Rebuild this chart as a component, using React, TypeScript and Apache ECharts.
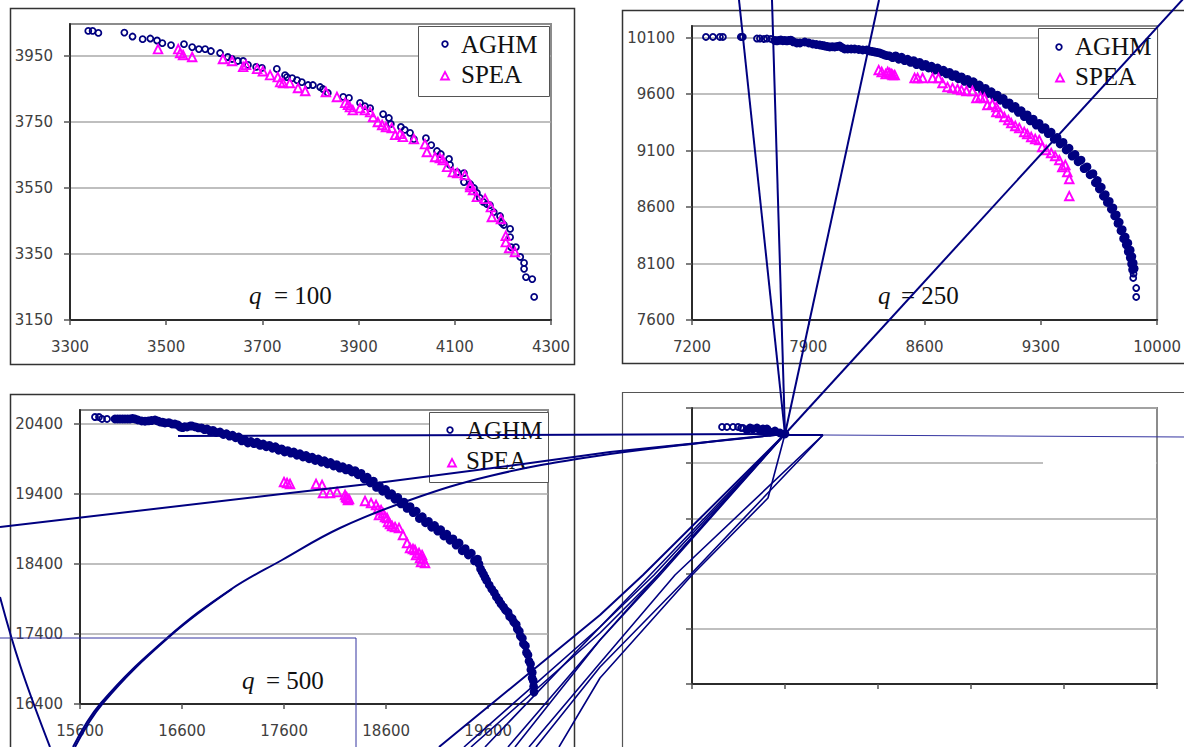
import React, { useEffect, useRef } from "react";
import * as echarts from "echarts";

const NAVY = "#000080";
const PINK = "#FF00FF";

const xTicks100 = [3300, 3500, 3700, 3900, 4100, 4300];
const yTicks100 = [3150, 3350, 3550, 3750, 3950];
const xTicks250 = [7200, 7900, 8600, 9300, 10000];
const yTicks250 = [7600, 8100, 8600, 9100, 9600, 10100];
const xTicks500 = [15600, 16600, 17600, 18600, 19600];
const yTicks500 = [16400, 17400, 18400, 19400, 20400];
const ticksBlank = [0, 1, 2, 3, 4, 5];

const aghm100 = [[3338,4026],[3347,4026],[3359,4020],[3413,4021],[3430,4009],[3451,4001],[3467,4003],[3481,3997],[3492,3989],[3510,3983],[3537,3986],[3554,3977],[3568,3971],[3581,3971],[3593,3965],[3612,3959],[3628,3947],[3637,3941],[3649,3935],[3660,3935],[3670,3923],[3687,3917],[3699,3914],[3730,3911],[3747,3892],[3751,3886],[3762,3883],[3772,3877],[3782,3871],[3795,3862],[3805,3862],[3820,3856],[3826,3850],[3836,3838],[3868,3826],[3880,3823],[3903,3808],[3913,3798],[3924,3792],[3951,3774],[3963,3762],[3967,3744],[3988,3735],[3996,3726],[4007,3717],[4015,3698],[4040,3701],[4051,3680],[4063,3662],[4071,3653],[4088,3638],[4090,3620],[4105,3598],[4119,3595],[4119,3568],[4132,3562],[4140,3550],[4146,3535],[4152,3520],[4159,3508],[4167,3501],[4173,3498],[4181,3477],[4194,3465],[4198,3444],[4202,3438],[4215,3426],[4215,3401],[4217,3371],[4227,3371],[4236,3341],[4244,3323],[4244,3305],[4248,3280],[4261,3274],[4265,3220]];
const spea100 = [[3483,3971],[3525,3971],[3529,3959],[3535,3953],[3554,3947],[3618,3941],[3637,3935],[3660,3917],[3666,3923],[3689,3911],[3701,3904],[3716,3892],[3732,3886],[3737,3871],[3743,3868],[3757,3868],[3774,3853],[3789,3844],[3832,3841],[3855,3826],[3872,3808],[3878,3802],[3882,3795],[3888,3786],[3903,3792],[3913,3786],[3924,3780],[3930,3765],[3940,3750],[3949,3741],[3957,3735],[3969,3732],[3976,3711],[3986,3714],[3992,3705],[4015,3698],[4038,3683],[4042,3659],[4059,3644],[4069,3641],[4075,3635],[4084,3614],[4096,3598],[4105,3595],[4121,3589],[4132,3559],[4132,3553],[4138,3544],[4146,3523],[4163,3517],[4175,3492],[4177,3462],[4196,3456],[4206,3386],[4206,3405],[4213,3368],[4225,3356]];

const aghm250 = [[7284,10105],[7326,10105],[7368,10105],[7386,10105],[7494,10105],[7500,10105],[7506,10105],[7591,10091],[7609,10091],[7633,10087],[7651,10091],[7675,10087],[7699,10074],[7711,10070],[7723,10075],[7735,10078],[7747,10072],[7759,10074],[7771,10070],[7783,10074],[7795,10077],[7810,10062],[7831,10051],[7850,10052],[7879,10060],[7903,10052],[7927,10043],[7948,10038],[7969,10034],[7985,10030],[7999,10025],[8014,10020],[8029,10016],[8044,10018],[8059,10016],[8074,10020],[8089,10025],[8104,10010],[8119,9998],[8137,9998],[8158,9998],[8179,9998],[8204,9994],[8228,9990],[8252,9990],[8270,9981],[8285,9976],[8300,9972],[8315,9968],[8330,9963],[8345,9954],[8360,9945],[8375,9940],[8390,9936],[8408,9922],[8426,9938],[8444,9908],[8462,9925],[8480,9896],[8498,9908],[8516,9880],[8534,9896],[8552,9860],[8570,9880],[8588,9845],[8606,9862],[8624,9830],[8642,9846],[8660,9812],[8678,9830],[8696,9795],[8714,9810],[8732,9778],[8750,9792],[8768,9755],[8786,9772],[8804,9735],[8822,9752],[8840,9712],[8858,9730],[8876,9692],[8894,9708],[8912,9665],[8930,9680],[8948,9630],[8966,9650],[8984,9605],[9002,9620],[9020,9575],[9038,9590],[9056,9545],[9074,9560],[9092,9508],[9110,9522],[9128,9474],[9146,9490],[9164,9438],[9182,9452],[9200,9400],[9218,9415],[9236,9362],[9254,9378],[9272,9325],[9290,9340],[9308,9288],[9326,9302],[9344,9250],[9362,9262],[9380,9200],[9398,9215],[9416,9158],[9434,9172],[9452,9105],[9470,9120],[9488,9050],[9506,9065],[9524,9000],[9542,9015],[9560,8940],[9578,8955],[9596,8885],[9614,8895],[9628,8815],[9640,8835],[9652,8760],[9664,8775],[9676,8695],[9688,8710],[9700,8640],[9712,8650],[9724,8580],[9734,8592],[9744,8520],[9754,8530],[9764,8455],[9772,8465],[9782,8390],[9790,8400],[9798,8320],[9808,8335],[9814,8265],[9824,8280],[9826,8205],[9838,8218],[9838,8150],[9848,8162],[9846,8095],[9856,8105],[9852,8045],[9862,8055]];
const aghm250Tail = [[9858,8010],[9856,7972],[9874,7883],[9874,7804]];
const spea250 = [[8324,9812],[8342,9795],[8366,9777],[8378,9795],[8390,9786],[8402,9777],[8408,9768],[8420,9768],[8540,9742],[8558,9742],[8588,9742],[8648,9742],[8684,9742],[8708,9697],[8738,9662],[8768,9653],[8798,9644],[8822,9635],[8852,9627],[8888,9627],[8912,9565],[8936,9574],[8960,9565],[8978,9503],[9008,9512],[9032,9485],[9032,9441],[9056,9432],[9080,9397],[9104,9370],[9122,9343],[9146,9317],[9170,9299],[9200,9264],[9218,9246],[9242,9220],[9266,9202],[9290,9193],[9308,9131],[9332,9105],[9362,9078],[9386,9051],[9411,9016],[9429,8954],[9447,8972],[9459,8910],[9471,8848],[9471,8697]];

const aghm500 = [[15747,20501],[15786,20501],[15816,20473],[15865,20473],[15943,20473],[15968,20473],[15992,20473],[16017,20473],[16041,20473],[16066,20473],[16090,20473],[16115,20480],[16139,20473],[16168,20458],[16205,20444],[16237,20440],[16270,20445],[16300,20450],[16335,20458],[16360,20445],[16384,20430],[16410,20425],[16433,20415],[16470,20420],[16502,20401],[16530,20400],[16560,20387],[16580,20358],[16605,20350],[16625,20362],[16649,20358],[16680,20372],[16698,20372],[16730,20360],[16760,20345],[16790,20345],[16820,20320],[16845,20330],[16875,20300],[16903,20310],[16935,20280],[16972,20287],[17005,20250],[17035,20262],[17065,20228],[17095,20240],[17125,20205],[17155,20215],[17185,20160],[17215,20175],[17245,20130],[17275,20150],[17305,20120],[17335,20140],[17365,20095],[17395,20115],[17425,20075],[17455,20095],[17485,20055],[17515,20075],[17545,20025],[17575,20045],[17605,20000],[17635,20020],[17665,19985],[17695,20000],[17725,19955],[17755,19975],[17785,19930],[17815,19950],[17845,19905],[17875,19925],[17905,19880],[17935,19900],[17965,19855],[17995,19875],[18025,19830],[18055,19850],[18085,19800],[18115,19820],[18145,19770],[18175,19790],[18205,19745],[18235,19765],[18265,19715],[18295,19735],[18325,19675],[18355,19695],[18385,19615],[18415,19640],[18445,19560],[18475,19585],[18505,19495],[18535,19515],[18565,19440],[18595,19465],[18625,19385],[18655,19405],[18685,19325],[18715,19350],[18745,19260],[18775,19285],[18805,19195],[18835,19220],[18865,19135],[18895,19155],[18925,19050],[18955,19075],[18985,18990],[19015,19010],[19045,18925],[19075,18950],[19105,18870],[19135,18890],[19165,18800],[19195,18825],[19225,18740],[19255,18760],[19285,18670],[19315,18700],[19345,18590],[19375,18620],[19405,18530],[19435,18555],[19465,18445],[19495,18470],[19510,18400],[19525,18330],[19540,18290],[19555,18250],[19570,18205],[19585,18165],[19610,18100],[19635,18040],[19660,17990],[19680,17930],[19705,17880],[19725,17830],[19750,17785],[19770,17740],[19795,17710],[19810,17650],[19835,17620],[19850,17570],[19875,17535],[19885,17470],[19905,17440],[19915,17370],[19935,17340],[19945,17260],[19965,17230],[19975,17135],[19990,17100],[20000,17010],[20015,16970],[20018,16890],[20032,16850],[20030,16770],[20042,16730],[20045,16650],[20049,16570]];
const spea500 = [[17599,19572],[17629,19558],[17658,19544],[17913,19544],[17972,19530],[17981,19415],[18050,19415],[18119,19429],[18197,19387],[18207,19358],[18217,19344],[18226,19315],[18236,19329],[18393,19301],[18452,19272],[18501,19244],[18520,19187],[18530,19101],[18550,19172],[18569,19129],[18589,19072],[18609,19058],[18618,19001],[18638,18972],[18658,18944],[18687,18929],[18726,18915],[18765,18815],[18805,18701],[18834,18629],[18863,18615],[18883,18601],[18893,18529],[18922,18558],[18932,18486],[18942,18429],[18952,18529],[18961,18472],[18981,18415]];

const aghmBlank = [[0.323,4.656],[0.376,4.656],[0.441,4.656],[0.495,4.656],[0.527,4.638],[0.548,4.638],[0.591,4.6],[0.624,4.638],[0.656,4.62],[0.699,4.638],[0.731,4.6],[0.763,4.62],[0.806,4.62],[0.839,4.565],[0.892,4.583],[0.946,4.547],[1.0,4.529]];

// Stray strokes of the reference, in page units (the overlay axes run 0-1184 and 0-747).
const strayThick = [
  [[739, 0], [785, 434]],
  [[772, 0], [785, 434]],
  [[879, 0], [785, 434]],
  [[1184, -2], [785, 434]],
  [[178, 436], [785, 434]],
  [[0, 527], [290, 493], [377, 483], [523, 464], [610, 452], [785, 434]],
  [[785, 435], [823, 435]],
  [[439, 747], [600, 615], [643, 575], [785, 434]],
];
const strayArcs = [
  [[73, 747], [101, 703], [167, 638], [230, 590], [282, 560], [340, 528], [410, 500], [490, 476], [590, 457], [700, 443], [785, 434]],
  [[75, 747], [103, 703], [169, 637], [232, 589]],
  [[0, 597], [20, 665], [50, 747]],
];
const strayThin = [
  [[464, 747], [600, 627], [650, 575], [785, 434]],
  [[471, 747], [600, 633], [658, 575], [785, 434]],
  [[485, 747], [600, 627], [654, 575], [785, 434]],
  [[508, 747], [600, 640], [658, 575], [785, 434]],
  [[515, 747], [600, 640], [660, 575], [785, 434]],
  [[529, 747], [600, 663], [675, 575], [823, 435]],
  [[536, 747], [600, 667], [690, 575], [823, 435]],
  [[559, 747], [600, 678], [692, 575], [768, 498], [785, 434]],
];
const strayFaint = [
  [[0, 638], [356, 638], [356, 747]],
  [[823, 435], [1184, 437]],
];

const frames = [
  [10, 8, 564, 356, "#333333", 1.5],
  [622, 10, 640, 353, "#333333", 1.5],
  [10, 394, 564, 400, "#333333", 1.5],
  [622, 392, 640, 400, "#555555", 1.2],
];
const legendBoxes = [
  { box: [418, 26, 131, 70], circle: [445, 44], tri: [445, 76], tx: 461, a: 44, b: 74 },
  { box: [1038, 28, 119, 70], circle: [1059, 47], tri: [1060, 78], tx: 1075, a: 46, b: 76 },
  { box: [429, 412, 119, 70], circle: [450, 430], tri: [452, 463], tx: 466, a: 430, b: 460 },
];
const seriesNames = ["AGHM", "SPEA"];
const qLabels = [
  { qx: 249, ex: 274, y: 295, t: "= 100" },
  { qx: 878, ex: 901, y: 295, t: "= 250" },
  { qx: 242, ex: 266, y: 680, t: "= 500" },
];

const panels = [
  { left: 70, top: 24, width: 481, height: 296, xMin: 3300, xMax: 4300, yMin: 3150, yMax: 4047, xT: xTicks100, yT: yTicks100, labels: true, solid: [], open: aghm100, s: spea100 },
  { left: 692, top: 26, width: 466, height: 294, xMin: 7200, xMax: 10000, yMin: 7600, yMax: 10202, xT: xTicks250, yT: yTicks250, labels: true, solid: aghm250.slice(12), open: [...aghm250.slice(0, 12), ...aghm250Tail], s: spea250 },
  { left: 80, top: 410, width: 468, height: 294, xMin: 15600, xMax: 20186, yMin: 16400, yMax: 20601, xT: xTicks500, yT: yTicks500, labels: true, solid: aghm500.slice(4), open: aghm500.slice(0, 4), s: spea500 },
  { left: 692, top: 408, width: 465, height: 276, xMin: 0, xMax: 5, yMin: 0, yMax: 5, xT: ticksBlank, yT: ticksBlank, labels: false, solid: aghmBlank.slice(6), open: aghmBlank.slice(0, 6), s: [] },
];

function buildOption() {
  const grid: any[] = [];
  const xAxis: any[] = [];
  const yAxis: any[] = [];
  const series: any[] = [];
  const labelStyle = { fontFamily: "DejaVu Sans", fontSize: 15, color: "#404040", formatter: (v: number) => String(v), hideOverlap: false };
  panels.forEach((p: any, i) => {
    grid.push({ left: p.left, top: p.top, width: p.width, height: p.height, show: true, borderColor: "#8c8c8c", borderWidth: 2, backgroundColor: "transparent", containLabel: false });
    xAxis.push({
      type: "value", gridIndex: i, min: p.xMin, max: p.xMax, splitLine: { show: false },
      axisLine: { onZero: false, lineStyle: { color: "#2b2b2b", width: 2 } },
      axisTick: { length: 5, customValues: p.xT, lineStyle: { color: "#555555", width: 1.5 } },
      axisLabel: { show: p.labels, customValues: p.xT, margin: 19, ...labelStyle },
    });
    yAxis.push({
      type: "value", gridIndex: i, min: p.yMin, max: p.yMax,
      splitLine: { show: true, lineStyle: { color: "#aaaaaa", width: 1.5 } },
      axisLine: { onZero: false, lineStyle: { color: "#2b2b2b", width: 2 } },
      axisTick: { length: 6, customValues: p.yT, lineStyle: { color: "#555555", width: 1.5 } },
      axisLabel: { show: p.labels, customValues: p.yT, margin: 17, ...labelStyle },
    });
    series.push({
      type: "scatter", name: seriesNames[0], xAxisIndex: i, yAxisIndex: i, data: p.open, symbol: "circle", symbolSize: 6, z: 2,
      itemStyle: { color: "rgba(255,255,255,0)", borderColor: NAVY, borderWidth: 1.8, opacity: 1 },
    });
    if (p.solid.length) {
      series.push({
        type: "scatter", name: seriesNames[0], xAxisIndex: i, yAxisIndex: i, data: p.solid, symbol: "circle", symbolSize: 7.2, z: 2,
        itemStyle: { color: NAVY, borderColor: NAVY, borderWidth: 1.6, opacity: 1 },
      });
    }
    if (p.s.length) {
      series.push({
        type: "scatter", name: seriesNames[1], xAxisIndex: i, yAxisIndex: i, data: p.s, symbol: "triangle", symbolSize: 8.5, z: 3,
        itemStyle: { color: "rgba(255,255,255,0)", borderColor: PINK, borderWidth: 1.9, opacity: 1 },
      });
    }
  });
  grid.push({ left: 0, top: 0, width: 1184, height: 747, show: false });
  xAxis.push({ type: "value", gridIndex: 4, min: 0, max: 1184, show: false });
  yAxis.push({ type: "value", gridIndex: 4, min: 0, max: 747, inverse: true, show: false });
  const stray = (lines: number[][][], width: number, color: string, smooth: number | boolean = false) => lines.forEach((d) => series.push({
    type: "line", xAxisIndex: 4, yAxisIndex: 4, data: d, showSymbol: false, symbol: "none", z: 10, silent: true, smooth,
    lineStyle: { color, width },
  }));
  stray(strayThick, 2, NAVY);
  stray(strayArcs, 2, NAVY, 0.4);
  stray(strayThin, 1.6, NAVY);
  stray(strayFaint, 1, "#3434a0");

  const graphic: any[] = [];
  frames.forEach(([x, y, w, h, c, lw]: any[]) => graphic.push({ type: "rect", z: 1, shape: { x: x + 0.5, y: y + 0.5, width: w, height: h }, style: { fill: "none", stroke: c, lineWidth: lw } }));
  graphic.push({ type: "rect", z: 1, shape: { x: 1043, y: 462, width: 113, height: 5 }, style: { fill: "#ffffff" } });
  legendBoxes.forEach((l) => {
    graphic.push({ type: "rect", z: 4, shape: { x: l.box[0] + 0.5, y: l.box[1] + 0.5, width: l.box[2], height: l.box[3] }, style: { fill: "#ffffff", stroke: "#555555", lineWidth: 1 } });
    graphic.push({ type: "circle", z: 5, shape: { cx: l.circle[0], cy: l.circle[1], r: 2.8 }, style: { fill: "none", stroke: NAVY, lineWidth: 1.8 } });
    const [tx, ty] = l.tri;
    graphic.push({ type: "polygon", z: 5, shape: { points: [[tx, ty - 4], [tx + 4, ty + 3.5], [tx - 4, ty + 3.5]] }, style: { fill: "none", stroke: PINK, lineWidth: 1.8 } });
    graphic.push({ type: "text", z: 5, x: l.tx, y: l.a, style: { text: seriesNames[0], font: "25px 'Liberation Serif'", fill: "#111111", verticalAlign: "middle" } });
    graphic.push({ type: "text", z: 5, x: l.tx, y: l.b, style: { text: seriesNames[1], font: "25px 'Liberation Serif'", fill: "#111111", verticalAlign: "middle" } });
  });
  qLabels.forEach((q) => {
    graphic.push({ type: "text", z: 5, x: q.qx, y: q.y, style: { text: "q", font: "italic 25px 'Liberation Serif'", fill: "#111111", verticalAlign: "middle" } });
    graphic.push({ type: "text", z: 5, x: q.ex, y: q.y, style: { text: q.t, font: "25px 'Liberation Serif'", fill: "#111111", verticalAlign: "middle" } });
  });

  return { animation: false, backgroundColor: "#ffffff", grid, xAxis, yAxis, series, graphic };
}

export default function App() {
  const ref = useRef<HTMLDivElement>(null);
  useEffect(() => {
    document.body.style.margin = "0";
    document.body.style.overflow = "hidden";
    const chart = echarts.init(ref.current!, undefined, { renderer: "svg" });
    chart.setOption(buildOption() as any);
    return () => chart.dispose();
  }, []);
  return <div ref={ref} style={{ width: 1184, height: 747 }} />;
}
